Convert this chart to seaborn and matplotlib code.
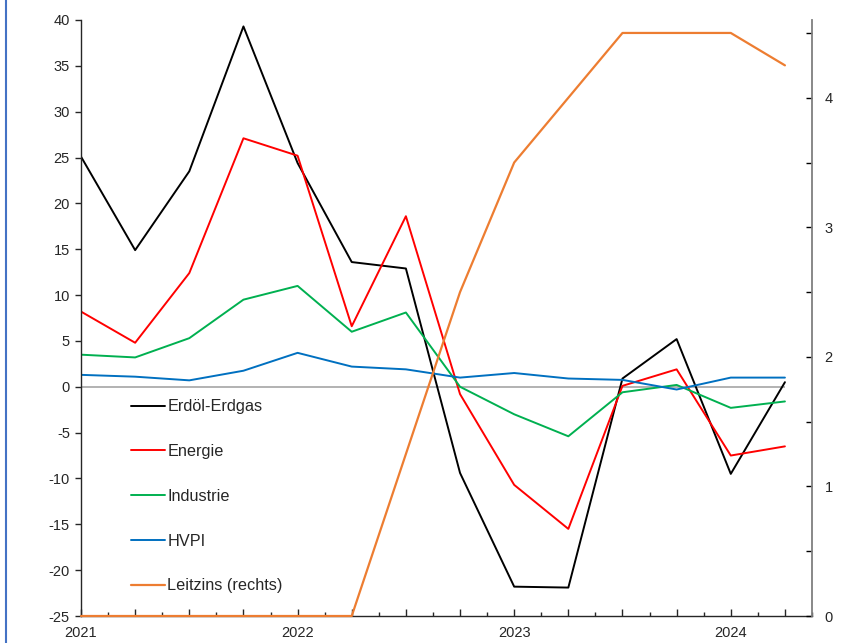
import numpy as np
import pandas as pd
import matplotlib
matplotlib.use("Agg")
import matplotlib.pyplot as plt
from matplotlib.lines import Line2D
import seaborn as sns

# quarterly data, 2021 Q1 .. 2024 Q2
quarters = ["2021Q1", "2021Q2", "2021Q3", "2021Q4",
            "2022Q1", "2022Q2", "2022Q3", "2022Q4",
            "2023Q1", "2023Q2", "2023Q3", "2023Q4",
            "2024Q1", "2024Q2"]
oel_gas = [25.1, 14.9, 23.5, 39.3, 24.4, 13.6, 12.9, -9.4, -21.8, -21.9, 0.9, 5.2, -9.5, 0.5]
energie = [8.2, 4.8, 12.4, 27.1, 25.2, 6.6, 18.6, -0.8, -10.7, -15.5, 0.1, 1.9, -7.5, -6.5]
industrie = [3.5, 3.2, 5.3, 9.5, 11.0, 6.0, 8.1, 0.0, -3.0, -5.4, -0.6, 0.2, -2.3, -1.6]
hvpi = [1.3, 1.1, 0.7, 1.75, 3.7, 2.2, 1.9, 1.0, 1.5, 0.9, 0.75, -0.3, 1.0, 1.0]
leitzins = [0, 0, 0, 0, 0, 0, 1.25, 2.5, 3.5, 4.0, 4.5, 4.5, 4.5, 4.25]
year_labels = ["2021", "2022", "2023", "2024"]

df = pd.DataFrame({"q": np.arange(len(quarters)), "Erdöl-Erdgas": oel_gas,
                   "Energie": energie, "Industrie": industrie, "HVPI": hvpi,
                   "Leitzins (rechts)": leitzins})

sns.set_style("ticks")
plt.rcParams["font.family"] = ["Liberation Sans", "DejaVu Sans"]
plt.rcParams["font.size"] = 10.5
plt.rcParams["axes.unicode_minus"] = False

fig = plt.figure(figsize=(8.62, 6.43), dpi=100)
ax = fig.add_axes([81 / 862, 27 / 643, 731 / 862, 596 / 643])
ax2 = ax.twinx()

left_series = [("Erdöl-Erdgas", "black"), ("Energie", "#ff0000"),
               ("Industrie", "#00b050"), ("HVPI", "#0070c0")]
for name, col in left_series:
    sns.lineplot(data=df, x="q", y=name, ax=ax, color=col, lw=1.4, label=name, legend=False)
sns.lineplot(data=df, x="q", y="Leitzins (rechts)", ax=ax2, color="#ed7d31", lw=1.6,
             label="Leitzins (rechts)", legend=False, clip_on=False)

# zero line only across the data range
ax.hlines(0, df["q"].min(), df["q"].max(), color="#a6a6a6", lw=1.2, zorder=0)

ax.set_xlim(0, 13.5)
ax.set_ylim(-25, 40)
ax2.set_ylim(0, 4.6)
ax.set_xlabel("")
ax.set_ylabel("")
ax2.set_xlabel("")
ax2.set_ylabel("")

ax.set_yticks(np.arange(-25, 41, 5))
ax.tick_params(axis="y", direction="out", length=4, width=1, pad=4, labelsize=10.5)

ax.set_xticks(np.arange(0, 14, 1))
ax.set_xticklabels([year_labels[i // 4] if i % 4 == 0 else "" for i in range(14)])
ax.set_xticks(np.arange(0.5, 13.6, 1), minor=True)
ax.tick_params(axis="x", which="major", direction="in", length=5, width=1, pad=7, labelsize=10.5)
ax.tick_params(axis="x", which="minor", direction="in", length=3, width=1)

ax2.set_yticks([0, 1, 2, 3, 4])
ax2.set_yticks(np.arange(0.5, 4.6, 1), minor=True)
ax2.tick_params(axis="y", which="major", direction="in", length=4, width=1, pad=9,
                labelsize=10.5, color="black")
ax2.tick_params(axis="y", which="minor", direction="in", length=4, width=1, color="black")

for a in (ax, ax2):
    a.spines["top"].set_visible(False)
ax2.spines["left"].set_visible(False)
ax2.spines["bottom"].set_visible(False)
ax2.spines["right"].set_color("#7f7f7f")
ax2.spines["right"].set_linewidth(1.3)
ax.spines["right"].set_visible(False)
ax.spines["left"].set_linewidth(1.0)
ax.spines["bottom"].set_linewidth(1.0)

h1, l1 = ax.get_legend_handles_labels()
h2, l2 = ax2.get_legend_handles_labels()
leg = ax2.legend(h1 + h2, l1 + l2, loc="upper left", bbox_to_anchor=(0.048, 0.388),
                 frameon=False, fontsize=11.7, labelspacing=1.83, handlelength=2.1,
                 handletextpad=0.15)

# blue frame line at the left edge
fig.add_artist(Line2D([6.5 / 862, 6.5 / 862], [0, 1], transform=fig.transFigure,
                      color="#4472c4", lw=1.5))

fig.savefig("out.png", dpi=100)
